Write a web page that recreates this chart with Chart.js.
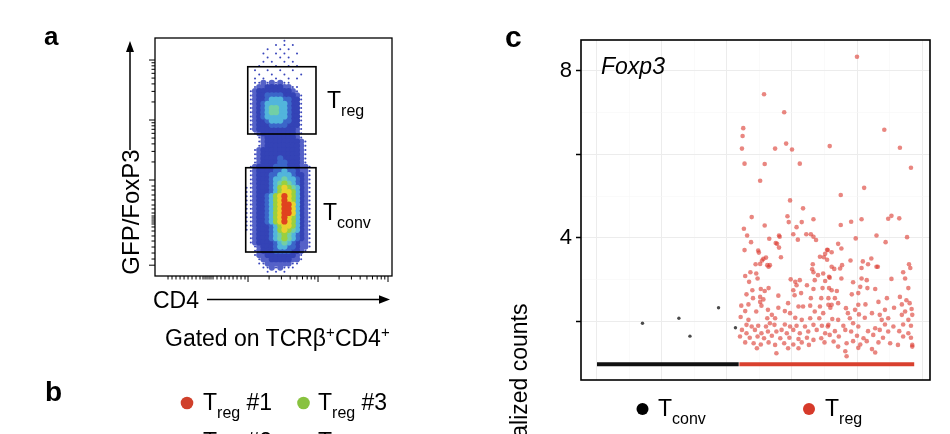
<!DOCTYPE html>
<html>
<head>
<meta charset="utf-8">
<script src="https://cdn.jsdelivr.net/npm/chart.js@4.4.0/dist/chart.umd.min.js"></script>
<style>
html, body { margin: 0; padding: 0; background: #fff; }
#fig { position: relative; width: 950px; height: 434px; overflow: hidden; font-family: 'Liberation Sans', Arial, Helvetica, sans-serif; color: #000; }
.t { position: absolute; line-height: 1; white-space: nowrap; }
.sub { font-size: 16px; vertical-align: -8px; }
.sup { font-size: 15px; vertical-align: 9px; }
canvas { position: absolute; }
</style>
</head>
<body>
<div id="fig">
  <canvas id="flow" width="275" height="260" style="left:130px;top:28px;"></canvas>
  <canvas id="foxp3" width="420" height="360" style="left:520px;top:30px;"></canvas>

  <svg width="950" height="434" style="position:absolute;left:0;top:0;">
    <line x1="130" y1="150" x2="130" y2="48" stroke="#000" stroke-width="1.5"/>
    <polygon points="130,41 126,52 134,52" fill="#000"/>
    <line x1="207" y1="299.5" x2="382" y2="299.5" stroke="#000" stroke-width="1.5"/>
    <polygon points="390,299.5 379,295.3 379,303.7" fill="#000"/>
    <circle cx="187" cy="403" r="6.3" fill="#d0402b"/>
    <circle cx="303.5" cy="403" r="6.3" fill="#88c23f"/>
    <circle cx="187" cy="443" r="6.3" fill="#3b6fc4"/>
    <circle cx="303.5" cy="443" r="6.3" fill="#222"/>
    <circle cx="642.5" cy="409" r="6" fill="#000"/>
    <circle cx="809" cy="409" r="6" fill="#d63a2a"/>
  </svg>

  <div class="t" style="left:44px;top:23px;font-size:26px;font-weight:bold;">a</div>
  <div class="t" style="left:45px;top:378px;font-size:28px;font-weight:bold;">b</div>
  <div class="t" style="left:505px;top:22px;font-size:30px;font-weight:bold;">c</div>

  <div class="t" style="left:30.5px;top:199.5px;width:200px;height:24px;font-size:24px;text-align:center;transform:rotate(-90deg);">GFP/FoxP3</div>
  <div class="t" style="left:327px;top:88.5px;font-size:23px;">T<span class="sub">reg</span></div>
  <div class="t" style="left:323px;top:200.5px;font-size:23px;">T<span class="sub">conv</span></div>
  <div class="t" style="left:153px;top:288.5px;font-size:23px;">CD4</div>
  <div class="t" style="left:165px;top:323.5px;font-size:23px;">Gated on TCRβ<span class="sup">+</span>CD4<span class="sup">+</span></div>

  <div class="t" style="left:203px;top:390.5px;font-size:23px;">T<span class="sub">reg</span> #1</div>
  <div class="t" style="left:318px;top:390.5px;font-size:23px;">T<span class="sub">reg</span> #3</div>
  <div class="t" style="left:203px;top:430px;font-size:23px;">T<span class="sub">reg</span> #2</div>
  <div class="t" style="left:318px;top:430px;font-size:23px;">T<span class="sub">conv</span></div>

  <div class="t" style="left:601px;top:54.5px;font-size:23px;font-style:italic;">Foxp3</div>
  <div class="t" style="left:389px;top:421.5px;width:260px;height:23px;font-size:23px;text-align:right;transform:rotate(-90deg);">normalized counts</div>
  <div class="t" style="left:658px;top:396.5px;font-size:23px;">T<span class="sub">conv</span></div>
  <div class="t" style="left:825px;top:396.5px;font-size:23px;">T<span class="sub">reg</span></div>
</div>

<script>
Chart.defaults.font.family = "'Liberation Sans', Arial, sans-serif";
Chart.defaults.color = '#000';

// ---- panel c: Foxp3 normalized counts, one point per cell [cell rank, value]
var tconvCells = [[70, 1.96], [126, 2.08], [143, 1.65], [187, 2.33], [213, 1.85]];
var tregCells = [
    [257, 7.44], [288, 7.01], [225, 6.63], [224, 6.44], [223, 6.14], [274, 6.14], [291, 6.26], [300, 6.12], [358, 6.20],
    [227, 5.78], [258, 5.77], [312, 5.78], [251, 5.37], [400, 8.34], [442, 6.59], [466, 6.16], [483, 5.68],
    [297, 4.90], [317, 4.71], [238, 4.50], [293, 4.52], [333, 4.45], [295, 4.38], [258, 4.30], [315, 4.38], [307, 4.26],
    [226, 4.22], [231, 4.06], [280, 4.06], [281, 4.03], [302, 4.09], [322, 4.09], [329, 4.09], [333, 4.03], [337, 3.95],
    [265, 3.98], [309, 3.96], [237, 3.90], [275, 3.88], [277, 3.86], [280, 3.77], [227, 3.71], [248, 3.70], [249, 3.65],
    [354, 3.72], [351, 3.62], [283, 3.54], [343, 3.55], [349, 3.54], [256, 3.50], [260, 3.53], [254, 3.46], [244, 3.37],
    [251, 3.38], [262, 3.35], [266, 3.35], [332, 3.37], [331, 3.25],
    [411, 5.20], [375, 5.03], [453, 4.53], [448, 4.46], [465, 4.47], [407, 4.45], [391, 4.39], [375, 4.31], [430, 4.06],
    [477, 4.02], [398, 3.99], [444, 3.90], [371, 3.86], [376, 3.75], [355, 3.71], [361, 3.66], [422, 3.51], [354, 3.48],
    [390, 3.46], [409, 3.44], [417, 3.37], [377, 3.35], [432, 3.31], [480, 3.37], [482, 3.28], [407, 3.28], [365, 3.26],
    [236, 3.18], [264, 3.31], [245, 3.15], [228, 3.09], [333, 3.18], [340, 3.11], [348, 3.15], [335, 2.99], [351, 2.97],
    [357, 3.07], [247, 3.03], [234, 2.95], [298, 3.01], [305, 2.95], [312, 2.99], [307, 2.87], [323, 2.87], [264, 2.80],
    [258, 2.73], [252, 2.78], [239, 2.75], [302, 2.75], [333, 2.78], [347, 2.80], [357, 2.80], [230, 2.65], [279, 2.62],
    [304, 2.63], [314, 2.68], [251, 2.59], [256, 2.53], [240, 2.56], [329, 2.56], [345, 2.56], [222, 2.38], [233, 2.41],
    [251, 2.47], [253, 2.38], [294, 2.44], [310, 2.36], [317, 2.36], [328, 2.38], [343, 2.36], [356, 2.40], [279, 2.33],
    [263, 2.28], [245, 2.24], [228, 2.25], [289, 2.25], [297, 2.20], [335, 2.24], [348, 2.20], [221, 2.11], [269, 2.16],
    [274, 2.08], [262, 2.08], [305, 2.09], [315, 2.04], [328, 2.08], [342, 2.08], [233, 2.04], [230, 1.92], [238, 1.88],
    [248, 1.90], [260, 1.88], [266, 1.96], [273, 1.92], [289, 1.93], [297, 1.88], [307, 1.90], [320, 1.88], [333, 1.92],
    [346, 1.90], [355, 1.88], [223, 1.80], [230, 1.72], [243, 1.80], [253, 1.72], [263, 1.76], [276, 1.76], [284, 1.80],
    [292, 1.72], [302, 1.80], [312, 1.72], [325, 1.76], [338, 1.80], [351, 1.72], [220, 1.64], [235, 1.61], [247, 1.64],
    [257, 1.60], [269, 1.66], [282, 1.60], [296, 1.61], [310, 1.58], [323, 1.61], [333, 1.56], [345, 1.60], [228, 1.50],
    [241, 1.48], [252, 1.45], [264, 1.50], [274, 1.44], [288, 1.48], [302, 1.45], [315, 1.50], [326, 1.44], [350, 1.50],
    [246, 1.36], [294, 1.36], [310, 1.36], [276, 1.24],
    [361, 3.31], [374, 3.27], [430, 3.31], [471, 3.18], [358, 3.05], [376, 3.03], [394, 2.94], [407, 3.03], [415, 2.99],
    [453, 3.02], [474, 3.03], [405, 2.83], [416, 2.80], [428, 2.78], [361, 2.75], [369, 2.73], [479, 2.80], [392, 2.65],
    [402, 2.68], [446, 2.56], [466, 2.59], [356, 2.56], [366, 2.56], [476, 2.51], [361, 2.40], [371, 2.44], [402, 2.40],
    [413, 2.41], [433, 2.47], [469, 2.41], [481, 2.44], [383, 2.32], [359, 2.33], [397, 2.28], [443, 2.28], [457, 2.33],
    [474, 2.24], [484, 2.30], [386, 2.20], [403, 2.17], [423, 2.20], [435, 2.16], [469, 2.16], [485, 2.16], [362, 2.06],
    [371, 2.04], [389, 2.08], [412, 2.09], [438, 2.04], [448, 2.08], [479, 2.04], [356, 1.92], [379, 1.90], [394, 1.96],
    [402, 1.88], [428, 1.84], [443, 1.93], [456, 1.88], [471, 1.93], [483, 1.90], [366, 1.77], [382, 1.80], [391, 1.76],
    [417, 1.77], [435, 1.80], [448, 1.76], [465, 1.77], [479, 1.72], [358, 1.68], [372, 1.64], [400, 1.66], [410, 1.60],
    [425, 1.68], [440, 1.61], [471, 1.64], [483, 1.61], [364, 1.52], [384, 1.48], [394, 1.53], [405, 1.45], [415, 1.53],
    [433, 1.50], [451, 1.48], [463, 1.44], [485, 1.44], [371, 1.40], [402, 1.37], [423, 1.34], [428, 1.26], [382, 1.29],
    [384, 1.17], [485, 1.40]
];
var zeroCount = 0.98;          // cells with no Foxp3 reads
var tconvSpan = [0, 218];
var tregSpan = [219, 488];
var yTicks = [2, 3, 4, 5, 6, 7, 8];
var yLabels = [4, 8];
var xTicks = [0, 50, 100, 150, 200, 250, 300, 350, 400, 450, 500];

// ---- panel a: flow density, binned (levels 0-9), CD4 vs GFP/FoxP3 in display decades
var flowRows = [
    '0000000001000000',
    '0000000101010000',
    '0000010010100000',
    '0000100101001000',
    '0000010010100000',
    '0000101001010000',
    '0001000100101000',
    '0010010010010000',
    '0001001001000100',
    '0010100100101000',
    '0011212121100000',
    '0012233332211000',
    '0123333333321000',
    '0123344443332100',
    '0123345554433100',
    '0123455555433100',
    '0123456655433100',
    '0123456655433100',
    '0123455555433100',
    '0123345554433100',
    '0123334444333100',
    '0123333333332100',
    '0012333333332100',
    '0001233333332100',
    '0001233333333210',
    '0001233333333210',
    '0012333333333210',
    '0012333333333210',
    '0012333343333210',
    '0012333344333210',
    '0123333444333221',
    '0123333445443221',
    '0123334455543321',
    '0123334556554321',
    '0123334567654321',
    '1123334578765321',
    '1123334578875321',
    '1123345789875321',
    '1123345789875321',
    '1123345789985321',
    '1123345789985321',
    '1123345789985321',
    '1123345789875321',
    '1123345789875321',
    '1123334578875321',
    '1123334578765321',
    '0123334567654321',
    '0123334567654321',
    '0123333456543221',
    '0012333455443221',
    '0012333444433210',
    '0012233333332100',
    '0001223333322100',
    '0001122222211000',
    '0000112121110000',
    '0000010101000000'
];
var flowBinX = [2.98, 0.06];   // first bin centre, bin width
var flowBinY = [5.32, 0.07];   // top bin centre, bin height
var tregGate = {x: [2.996, 3.971], y: [3.767, 4.888]};
var tconvGate = {x: [2.967, 3.971], y: [1.80, 3.205]};
var flowXMajor = [3, 4, 5];
var flowYMajor = [1.58, 3, 4, 5];
var flowXLin = [1.857, 1.914, 1.971, 2.029, 2.086, 2.143, 2.2, 2.257, 2.314, 2.357, 2.386, 2.414, 2.443, 2.471, 2.5,
    2.557, 2.614, 2.671, 2.729, 2.786, 2.843, 2.9, 2.957];
var flowYLin = [2.9, 2.833, 2.75, 2.667, 2.583, 2.517, 2.45, 2.4, 2.367, 2.333, 2.3, 2.267, 2.217, 2.15, 2.067, 1.983,
    1.883, 1.783, 1.683];

var levelColors = ['', '#3a46bb', '#5562c8', '#3443b6', '#3b66c9', '#52b5dc', '#72cfa6', '#9ad03f', '#e9d22c', '#e0431f'];

function minorTicks(majors) {
    var out = [];
    for (var m = 0; m < majors.length - 1; m++) {
        if (majors[m + 1] - majors[m] !== 1) continue;
        for (var k = 2; k <= 9; k++) out.push(majors[m] + Math.log10(k));
    }
    return out;
}

function cellRadius(ctx) {
    var s = ctx.chart.scales.x;
    var w = Math.abs(s.getPixelForValue(flowBinX[1]) - s.getPixelForValue(0));
    return w * 0.74;
}

var flowSets = [];
for (var lv = 1; lv <= 9; lv++) {
    var pts = [];
    flowRows.forEach(function (row, j) {
        for (var i = 0; i < row.length; i++) {
            if (+row.charAt(i) === lv) {
                pts.push({x: flowBinX[0] + i * flowBinX[1], y: flowBinY[0] - j * flowBinY[1]});
            }
        }
    });
    flowSets.push({
        data: pts,
        order: 10 - lv,
        pointStyle: 'circle',
        pointRadius: lv === 1 ? 1 : cellRadius,
        backgroundColor: levelColors[lv],
        borderWidth: 0
    });
}

var flowFrame = {
    id: 'flowFrame',
    afterDatasetsDraw: function (chart) {
        var c = chart.ctx, a = chart.chartArea, xs = chart.scales.x, ys = chart.scales.y;
        c.save();
        c.strokeStyle = '#000';
        c.lineWidth = 1.6;
        [tregGate, tconvGate].forEach(function (g) {
            var x0 = xs.getPixelForValue(g.x[0]), x1 = xs.getPixelForValue(g.x[1]);
            var y0 = ys.getPixelForValue(g.y[1]), y1 = ys.getPixelForValue(g.y[0]);
            c.strokeRect(x0, y0, x1 - x0, y1 - y0);
        });
        c.lineWidth = 1.3;
        c.strokeRect(a.left, a.top, a.right - a.left, a.bottom - a.top);
        c.lineWidth = 1;
        function xTick(v, len) {
            var p = xs.getPixelForValue(v);
            if (p < a.left || p > a.right) return;
            c.beginPath(); c.moveTo(p, a.bottom); c.lineTo(p, a.bottom + len); c.stroke();
        }
        function yTick(v, len) {
            var p = ys.getPixelForValue(v);
            if (p < a.top || p > a.bottom) return;
            c.beginPath(); c.moveTo(a.left, p); c.lineTo(a.left - len, p); c.stroke();
        }
        flowXMajor.forEach(function (v) { xTick(v, 6); });
        minorTicks(flowXMajor).concat(flowXLin).forEach(function (v) { xTick(v, 3.5); });
        flowYMajor.forEach(function (v) { yTick(v, 6); });
        minorTicks(flowYMajor).concat(flowYLin).forEach(function (v) { yTick(v, 3.5); });
        c.restore();
    }
};

new Chart(document.getElementById('flow'), {
    type: 'scatter',
    data: {datasets: flowSets},
    plugins: [flowFrame],
    options: {
        responsive: false,
        animation: false,
        layout: {padding: {left: 25, top: 10, right: 13, bottom: 12}},
        plugins: {legend: {display: false}, tooltip: {enabled: false}},
        scales: {
            x: {type: 'linear', min: 1.671, max: 5.057, display: false},
            y: {type: 'linear', min: 1.4, max: 5.367, display: false}
        }
    }
});

// ---- panel c chart
function toXY(p) { return {x: p[0], y: p[1]}; }

var boxPlugin = {
    id: 'box',
    afterDraw: function (chart) {
        var c = chart.ctx, a = chart.chartArea;
        c.save();
        c.strokeStyle = '#000';
        c.lineWidth = 1.6;
        c.strokeRect(a.left, a.top, a.right - a.left, a.bottom - a.top);
        c.restore();
    }
};

function noPad(s) {
    s.paddingTop = 0;
    s.paddingBottom = 0;
    s.paddingLeft = 0;
    s.paddingRight = 0;
}

new Chart(document.getElementById('foxp3'), {
    type: 'scatter',
    data: {
        datasets: [
            {data: tconvCells.map(toXY), pointRadius: 1.7, backgroundColor: '#4a4a4a', borderWidth: 0},
            {data: tregCells.map(toXY), pointRadius: 2.3, backgroundColor: 'rgba(220,60,50,0.62)', borderWidth: 0},
            {type: 'line', data: tconvSpan.map(function (x) { return {x: x, y: zeroCount}; }),
                borderColor: '#111', borderWidth: 4, pointRadius: 0},
            {type: 'line', data: tregSpan.map(function (x) { return {x: x, y: zeroCount}; }),
                borderColor: '#d9402e', borderWidth: 4, pointRadius: 0}
        ]
    },
    plugins: [boxPlugin],
    options: {
        responsive: false,
        animation: false,
        layout: {padding: {left: 0, top: 10, right: 10, bottom: 0}},
        plugins: {legend: {display: false}, tooltip: {enabled: false}},
        scales: {
            x: {
                type: 'linear', min: -24.6, max: 512.3,
                afterBuildTicks: function (s) { s.ticks = xTicks.map(function (v) { return {value: v}; }); },
                afterFit: function (s) { s.height = 10; noPad(s); },
                ticks: {display: false, autoSkip: false},
                border: {display: false},
                grid: {
                    drawTicks: false,
                    color: function (ctx) { return ctx.tick && ctx.tick.value % 100 === 0 ? '#ececec' : '#f6f6f6'; },
                    lineWidth: function (ctx) { return ctx.tick && ctx.tick.value % 100 === 0 ? 1 : 0.6; }
                }
            },
            y: {
                type: 'linear', min: 0.6, max: 8.74,
                afterBuildTicks: function (s) { s.ticks = yTicks.map(function (v) { return {value: v}; }); },
                afterFit: function (s) { s.width = 61; noPad(s); },
                border: {display: false},
                ticks: {
                    autoSkip: false,
                    padding: 4,
                    color: '#000',
                    font: {size: 22},
                    callback: function (v) { return yLabels.indexOf(v) >= 0 ? String(v) : ''; }
                },
                grid: {
                    tickLength: 5,
                    tickWidth: 1.5,
                    tickColor: function (ctx) { return ctx.tick && ctx.tick.value % 2 === 0 ? '#000' : 'rgba(0,0,0,0)'; },
                    color: function (ctx) { return ctx.tick && ctx.tick.value % 2 === 0 ? '#ececec' : '#f6f6f6'; },
                    lineWidth: function (ctx) { return ctx.tick && ctx.tick.value % 2 === 0 ? 1 : 0.6; }
                }
            }
        }
    }
});
</script>
</body>
</html>
